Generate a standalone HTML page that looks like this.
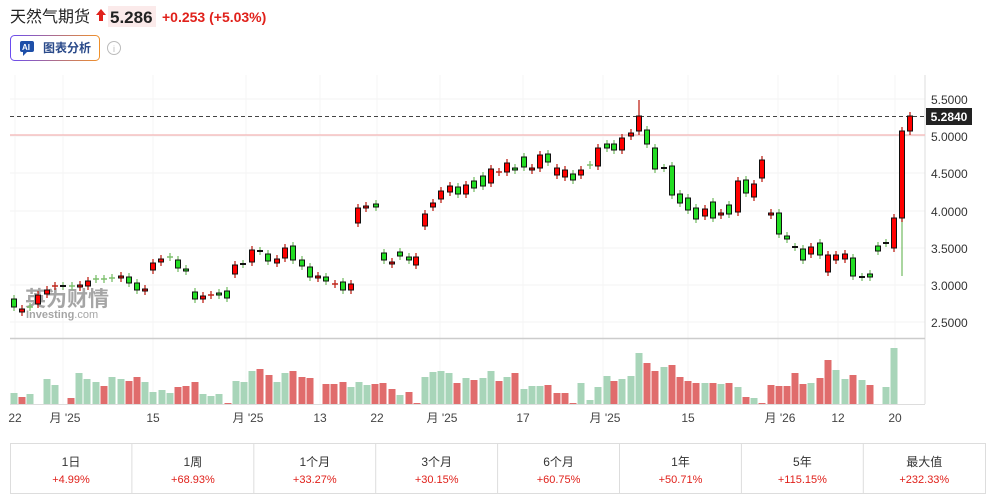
<!DOCTYPE html>
<html><head><meta charset="utf-8"><style>
body{margin:0;width:995px;height:501px;background:#fff;overflow:hidden;font-family:"Liberation Sans","Noto Sans CJK SC",sans-serif;}
</style></head><body>
<svg id="s" width="995" height="501" xmlns="http://www.w3.org/2000/svg" style="position:absolute;left:0;top:0">
<text x="10" y="22" font-size="16" fill="#222" font-family="Liberation Sans,Noto Sans CJK SC,sans-serif">天然气期货</text>
<path d="M96 15 L101 9 L106 15 L103 15 L103 21 L99 21 L99 15Z" fill="#e0211b"/>
<rect x="108" y="6" width="48" height="21" fill="#fbeaea"/>
<text x="110" y="23" font-size="17" font-weight="bold" fill="#222" font-family="Liberation Sans,sans-serif">5.286</text>
<text x="162" y="22" font-size="14" font-weight="bold" fill="#e0211b" font-family="Liberation Sans,sans-serif">+0.253 (+5.03%)</text>
<defs><linearGradient id="gb" x1="0" x2="1"><stop offset="0" stop-color="#6a4cf0"/><stop offset="1" stop-color="#f0902a"/></linearGradient></defs>
<rect x="10.5" y="35.5" width="89" height="25" rx="4" fill="#fff" stroke="url(#gb)"/>
<rect x="20" y="41" width="14" height="11" rx="2" fill="#1e4fa8"/><path d="M23 52 L23 56 L27 52Z" fill="#1e4fa8"/>
<text x="22" y="50" font-size="8" font-weight="bold" fill="#fff" font-family="Liberation Sans,sans-serif">AI</text>
<text x="43" y="52" font-size="12" font-weight="bold" fill="#2a4a8a" font-family="Liberation Sans,Noto Sans CJK SC,sans-serif">图表分析</text>
<circle cx="114" cy="48" r="6.5" fill="none" stroke="#bbb"/><text x="114" y="52" font-size="9" fill="#bbb" text-anchor="middle" font-family="Liberation Sans,sans-serif">i</text>
<g id="chart"></g>
</svg>
<script>
var g=document.getElementById('chart'),h='';
function L(x1,y1,x2,y2,c,w,d){h+='<line x1="'+x1+'" y1="'+y1+'" x2="'+x2+'" y2="'+y2+'" stroke="'+c+'" stroke-width="'+(w||1)+'"'+(d?' stroke-dasharray="'+d+'"':'')+'/>';}
function T(x,y,t,s,c,a,w){h+='<text x="'+x+'" y="'+y+'" font-size="'+s+'" fill="'+c+'" text-anchor="'+(a||'start')+'"'+(w?' font-weight="bold"':'')+' font-family="Liberation Sans,Noto Sans CJK SC,sans-serif">'+t+'</text>';}
var lv=[[5.5,99],[5,136],[4.5,173],[4,211],[3.5,248],[3,285],[2.5,322]];
lv.forEach(function(v){L(10,v[1],925,v[1],'#f3f3f3');T(931,v[1]+5,v[0].toFixed(4),12,'#333');});
var dl=[[15,'22'],[65,"月 '25"],[153,'15'],[248,"月 '25"],[320,'13'],[377,'22'],[442,"月 '25"],[523,'17'],[605,"月 '25"],[688,'15'],[780,"月 '26"],[838,'12'],[895,'20']];
dl.forEach(function(d){L(d[0]+(d[1].length>2?-2:0),75,d[0]+(d[1].length>2?-2:0),404,'#f5f5f5');T(d[0],422,d[1],12,'#444','middle');});
L(925,75,925,404,'#ddd');L(10,338.5,925,338.5,'#ccc',1.5);L(10,404.5,925,404.5,'#ddd');
L(10,135,925,135,'#f5c0c0',1.5);
L(10,116.5,925,116.5,'#444',1,'4,3');
h+='<rect x="926" y="108" width="46" height="17" fill="#222"/>';T(949,121,'5.2840',12,'#fff','middle',1);
h+='<text x="25" y="306" font-size="21" font-weight="bold" fill="#888" opacity="0.75" font-family="Noto Sans CJK SC,sans-serif">英为财情</text>';
h+='<text x="26" y="318" font-size="11" font-weight="bold" fill="#888" opacity="0.75" font-family="Liberation Sans,sans-serif">Investing<tspan font-weight="normal">.com</tspan></text>';
var C=[[14,299,307,'g'],[22,309,312,'r'],[30,307,307,'c'],[38,295,304,'r'],[47,290,294,'r'],[55,286,286,'c'],[63,286,286,'k'],[72,286,286,'c'],[80,285,287,'r'],[88,281,286,'r'],[96,279,279,'c'],[104,279,279,'c'],[112,278,278,'c'],[121,276,278,'r'],[129,277,283,'g'],[137,283,290,'g'],[145,289,291,'r'],[153,263,270,'r'],[161,259,262,'r'],[170,257,257,'c'],[178,260,268,'g'],[186,269,271,'g'],[195,292,299,'g'],[203,296,299,'r'],[211,295,295,'c'],[219,293,295,'g'],[227,291,298,'g'],[235,265,274,'r'],[243,264,264,'k'],[252,250,262,'r'],[260,251,251,'k'],[268,254,261,'g'],[277,259,263,'r'],[285,248,258,'r'],[293,246,260,'g'],[302,260,266,'g'],[310,267,277,'g'],[318,276,278,'r'],[326,277,281,'g'],[335,284,284,'c'],[343,282,290,'g'],[351,284,290,'r'],[358,208,223,'r'],[366,206,208,'r'],[376,204,207,'g'],[384,253,260,'g'],[392,262,264,'r'],[400,252,256,'g'],[409,257,260,'g'],[416,257,265,'r'],[425,214,226,'r'],[433,203,207,'r'],[441,191,199,'r'],[450,186,192,'r'],[458,187,194,'g'],[466,185,194,'r'],[474,181,188,'g'],[483,176,186,'g'],[491,169,183,'r'],[499,172,172,'c'],[507,163,172,'r'],[515,168,170,'g'],[524,157,167,'g'],[532,168,170,'r'],[540,155,168,'r'],[548,154,162,'g'],[557,168,175,'r'],[565,170,177,'r'],[573,174,180,'g'],[581,170,175,'r'],[590,165,165,'c'],[598,148,166,'r'],[607,144,148,'g'],[614,144,150,'g'],[622,138,150,'r'],[631,133,136,'r'],[639,116,131,'r',100],[647,130,144,'g'],[655,148,169,'g'],[664,168,168,'k'],[672,166,195,'g'],[680,194,203,'g'],[688,198,210,'g'],[696,208,219,'g'],[705,209,216,'r'],[713,202,218,'g'],[721,213,215,'r'],[729,205,214,'g'],[738,181,212,'r'],[746,180,193,'g'],[754,184,197,'r'],[762,160,178,'r'],[771,213,215,'r'],[779,213,234,'g'],[787,236,239,'g'],[795,247,247,'k'],[803,249,260,'g'],[811,247,254,'r'],[820,243,255,'g'],[828,255,272,'r'],[836,255,260,'r'],[845,254,259,'r'],[853,258,276,'g'],[862,277,277,'k'],[870,274,277,'g'],[878,246,251,'g'],[886,243,243,'k'],[894,218,248,'r'],[902,131,218,'r'],[910,116,131,'r']];
L(902,218,902,276,'#7cbf6c',1.3);
C.forEach(function(c){var x=c[0],t=c[1],b=c[2],k=c[3];var wc=(k=='r'||k=='c')?'#c0261b':'#7cbf6c';if(k=='c'){wc=(Math.round(x)%2)?'#c0261b':'#7cbf6c';}
var wt=c[4]||t-4,wb=c[5]||b+4;L(x,wt,x,wb,wc,1.3);
if(k=='c'){L(x-3,t,x+3,t,wc,1.5);}
else if(k=='k'){L(x-3,t,x+3,t,'#111',2);}
else h+='<rect x="'+(x-2.5)+'" y="'+t+'" width="5" height="'+Math.max(b-t,2)+'" fill="'+(k=='r'?'#ff0000':'#22dd22')+'" stroke="#111" stroke-width="1"/>';});
var V=[[14,393,'g'],[22,397,'r'],[30,394,'g'],[47,379,'g'],[55,385,'g'],[71,398,'r'],[79,373,'g'],[87,379,'g'],[96,382,'g'],[104,386,'r'],[112,377,'g'],[121,379,'g'],[129,381,'r'],[137,377,'r'],[145,382,'g'],[153,392,'g'],[162,390,'g'],[170,393,'g'],[178,387,'r'],[186,386,'r'],[195,382,'r'],[203,394,'g'],[211,396,'g'],[219,394,'g'],[228,403,'r'],[236,381,'g'],[244,382,'g'],[252,371,'g'],[260,369,'r'],[269,375,'r'],[277,382,'g'],[285,373,'g'],[293,371,'r'],[302,377,'r'],[310,378,'r'],[326,384,'r'],[334,384,'r'],[343,382,'r'],[351,387,'g'],[359,382,'g'],[367,385,'g'],[375,384,'r'],[383,383,'r'],[392,389,'r'],[400,395,'g'],[409,392,'r'],[417,403,'r'],[425,377,'g'],[433,372,'g'],[441,371,'g'],[449,373,'g'],[457,383,'r'],[466,378,'g'],[474,380,'r'],[483,378,'g'],[491,371,'g'],[499,381,'r'],[507,377,'g'],[515,373,'r'],[524,389,'g'],[532,386,'g'],[540,386,'g'],[548,385,'r'],[557,393,'r'],[565,393,'r'],[573,403,'r'],[581,383,'g'],[590,400,'g'],[598,387,'g'],[607,376,'g'],[614,381,'r'],[622,379,'g'],[631,376,'g'],[639,353,'g'],[647,363,'r'],[655,371,'r'],[664,367,'g'],[672,365,'r'],[680,377,'r'],[688,381,'r'],[696,383,'r'],[705,383,'g'],[713,383,'r'],[721,384,'g'],[729,383,'r'],[738,387,'g'],[746,397,'r'],[754,398,'g'],[762,403,'r'],[771,385,'r'],[779,386,'r'],[787,386,'r'],[795,373,'r'],[803,384,'r'],[811,383,'g'],[820,378,'r'],[828,360,'r'],[836,370,'g'],[845,379,'g'],[853,375,'r'],[862,380,'g'],[870,385,'r'],[886,387,'g'],[894,348,'g']];
V.forEach(function(v){h+='<rect x="'+(v[0]-3.5)+'" y="'+v[1]+'" width="7" height="'+(404-v[1])+'" fill="'+(v[2]=='r'?'#e06c6c':'#a8d5b9')+'"/>';});
h+='<rect x="10.5" y="443.5" width="975" height="50" fill="none" stroke="#ddd"/>';
var tb=[['1日','+4.99%'],['1周','+68.93%'],['1个月','+33.27%'],['3个月','+30.15%'],['6个月','+60.75%'],['1年','+50.71%'],['5年','+115.15%'],['最大值','+232.33%']];
tb.forEach(function(t,i){var x=10+i*121.9;if(i)L(x,444,x,493,'#ddd');T(x+61,466,t[0],12,'#333','middle');T(x+61,483,t[1],11,'#e0211b','middle');});
g.innerHTML=h;
</script>
</body></html>
